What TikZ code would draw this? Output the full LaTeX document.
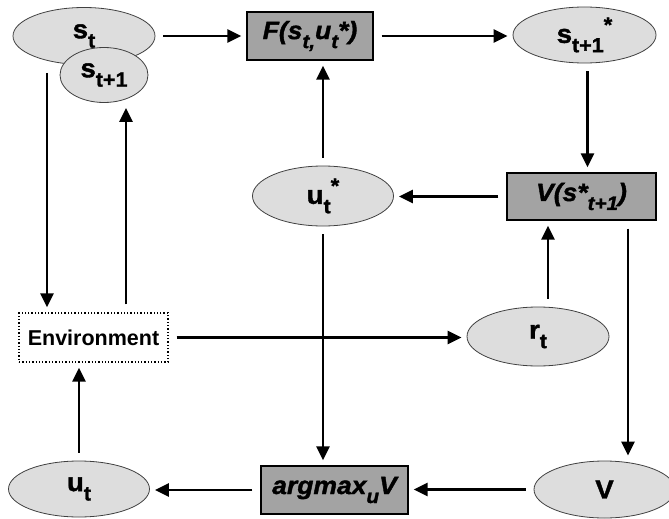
\documentclass[tikz,border=0pt]{standalone}
\usepackage{fontspec}
\setmainfont{Liberation Sans}
\newfontfamily\heavyfont[FakeBold=1.5, FakeStretch=1.06]{Liberation Sans}
\usetikzlibrary{shapes.geometric,arrows.meta}
\definecolor{ovalgray}{HTML}{DDDDDD}
\definecolor{boxgray}{HTML}{A3A3A3}
\newcommand{\lo}[1]{\raisebox{-.36em}{\scalebox{.78}{#1}}}
\newcommand{\hi}[1]{\raisebox{.42em}{\scalebox{.8}{#1}}}

\begin{document}
\begin{tikzpicture}[x=1pt, y=-1pt, font=\heavyfont\bfseries\fontsize{26}{28}\selectfont,
    oval/.style={ellipse, draw=black!75, line width=0.8pt, fill=ovalgray, inner sep=0pt},
    blk/.style={rectangle, draw, line width=1.4pt, fill=boxgray, inner sep=0pt,
      font=\heavyfont\bfseries\itshape\fontsize{25}{27}\selectfont},
    flow/.style={-{Triangle[length=14pt,width=13pt]}, line width=2.7pt,
      shorten <=8pt, shorten >=5pt}]
  \useasboundingbox (0,0) rectangle (669,519);
  % top row
  \node[oval, minimum width=142pt, minimum height=57pt] (st) at (84,36) {s\lo{t}};
  \node[oval, minimum width=88pt, minimum height=55pt] (stnext) at (104,75) {s\lo{t+1}};
  \node[blk, minimum width=126pt, minimum height=48pt] (fb) at (310,36) {F(s\lo{t,}u\lo{t}*)};
  \node[oval, minimum width=143pt, minimum height=56pt] (snext) at (584.5,35) {s\lo{t+1}\hi{*}};
  % middle
  \node[oval, minimum width=141pt, minimum height=60pt] (ustar) at (323,196) {u\lo{t}\hi{*}};
  \node[blk, minimum width=149pt, minimum height=47pt] (vbox) at (581.5,196.5) {V(s*\lo{t+1})};
  \node[rectangle, draw, dotted, line width=1.3pt, fill=white, minimum width=149pt,
    minimum height=49pt, font=\bfseries\fontsize{21.5}{23}\selectfont] (env) at (93.5,337.5) {Environment};
  \node[oval, minimum width=142pt, minimum height=59pt] (rt) at (538,336.5) {r\lo{t}};
  % bottom row
  \node[oval, minimum width=141pt, minimum height=56pt] (ut) at (79,489) {u\lo{t}};
  \node[blk, minimum width=147pt, minimum height=48pt] (argmax) at (334.5,490) {argmax\lo{u}V};
  \node[oval, minimum width=141pt, minimum height=57pt] (vnode) at (604.5,489.5) {V};
  \coordinate (envin) at ([xshift=-46.5pt]env.north);
  \coordinate (envout) at ([xshift=32.5pt]env.north);
  \coordinate (vdown) at ([xshift=46.5pt]vbox.south);
  \coordinate (rup) at ([xshift=10pt]rt.north);
  % connectors
  \draw[flow] (st.east |- fb.west) -- (fb.west);
  \draw[flow] (fb.east) -- (fb.east -| snext.west);
  \draw[flow] ([xshift=3pt]snext.south) -- ([xshift=3pt]snext.south |- vbox.north);
  \draw[flow] (vbox.west) -- (vbox.west -| ustar.east);
  \draw[flow] (ustar.north) -- (ustar.north |- fb.south);
  \draw[flow] (ustar.south) -- (ustar.south |- argmax.north);
  \draw[flow] (vdown) -- (vdown |- vnode.north);
  \draw[flow] (rup) -- (rup |- vbox.south);
  \draw[flow] (env.east) -- (env.east -| rt.west);
  \draw[flow] (st.south -| envin) -- (envin);
  \draw[flow] (envout) -- (envout |- stnext.south);
  \draw[flow] (ut.north) -- (ut.north |- env.south);
  \draw[flow] (vnode.west) -- (vnode.west -| argmax.east);
  \draw[flow] (argmax.west) -- (argmax.west -| ut.east);
\end{tikzpicture}
\end{document}
